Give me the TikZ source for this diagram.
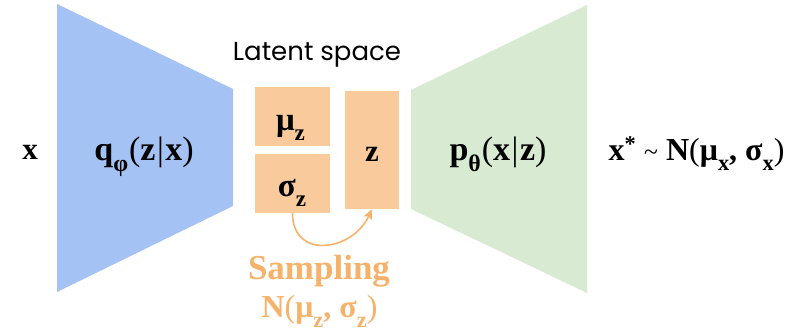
\documentclass[tikz,border=0pt]{standalone}
\usepackage{fontspec}
\setmainfont{Liberation Serif}
\newfontfamily\latentfont{Poppins}
\usetikzlibrary{arrows.meta,positioning}

\definecolor{encblue}{HTML}{A4C2F4}
\definecolor{decgreen}{HTML}{D9EAD3}
\definecolor{latentfill}{HTML}{F9CB9C}
\definecolor{sampleorange}{HTML}{F6B26B}

\newcommand{\lowsub}[1]{\raisebox{-0.3em}{\scalebox{0.7}{#1}}}
\newcommand{\thin}[1]{{\mdseries #1}}

\begin{document}
\begin{tikzpicture}[
  x=1pt,y=1pt,
  >=Stealth,
  lbl/.style={font=\fontsize{31}{36}\selectfont\bfseries,anchor=base,inner sep=0pt},
  biglbl/.style={lbl,font=\fontsize{34}{40}\selectfont\bfseries},
  latent/.style={fill=latentfill,draw=none,inner sep=0pt,minimum width=75pt,minimum height=59pt},
  sampletxt/.style={font=\fontsize{32}{38}\selectfont\bfseries,text=sampleorange,anchor=base,inner sep=0pt},
  sample/.style={-{Stealth[length=10pt,width=9pt,inset=2pt]},sampleorange,line width=1.6pt}
]
  \useasboundingbox (0,0) rectangle (800,331);

  % encoder and decoder
  \fill[encblue] (57,327) -- (233,242) -- (233,125) -- (57,39) -- cycle;
  \fill[decgreen] (411,241) -- (587,326) -- (587,38) -- (411,122) -- cycle;

  % latent boxes
  \node[latent] (muz) at (292.5,214.5) {};
  \node[latent] (sigz) at (292.5,147.5) {};
  \node[latent,minimum width=54pt,minimum height=118pt] (zbox) at (372,181) {};

  \node[font=\latentfont\fontsize{26}{30}\selectfont,anchor=base,inner sep=0pt] (latent) at (317,270) {Latent space};

  % labels
  \node[lbl] (xin) at (30,171) {x};
  \node[biglbl] (qenc) at (144,170)
    {q\lowsub{φ}\kern1pt\thin{(}z\kern1.5pt\thin{|}\kern1.5pt x\thin{)}};
  \node[lbl,font=\fontsize{33}{38}\selectfont\bfseries] (mulbl) at (290.5,200) {μ\lowsub{z}};
  \node[lbl,font=\fontsize{33}{38}\selectfont\bfseries] (siglbl) at (292,134) {σ\lowsub{z}};
  \node[lbl] (zlbl) at (372,169) {z};
  \node[biglbl] (pdec) at (498,170)
    {p\lowsub{θ}\kern1pt\thin{(}x\kern1.5pt\thin{|}\kern1.5pt z\thin{)}};
  \node[lbl,font=\fontsize{32}{38}\selectfont\bfseries] (xout) at (696.5,170)
    {x\textsuperscript{*} \thin{\scalebox{0.8}{\textasciitilde}} N\thin{(}μ\lowsub{x}, σ\lowsub{x}\thin{)}};

  % sampling
  \draw[sample] (sigz.south) to[out=-90,in=-115,looseness=1.5] (zbox.south);
  \node[sampletxt,font=\fontsize{35}{40}\selectfont\bfseries] (samp) at (319,51) {Sampling};
  \node[sampletxt] (normz) at (319.5,13) {N\thin{(}μ\lowsub{z}, σ\lowsub{z}\thin{)}};
\end{tikzpicture}
\end{document}
